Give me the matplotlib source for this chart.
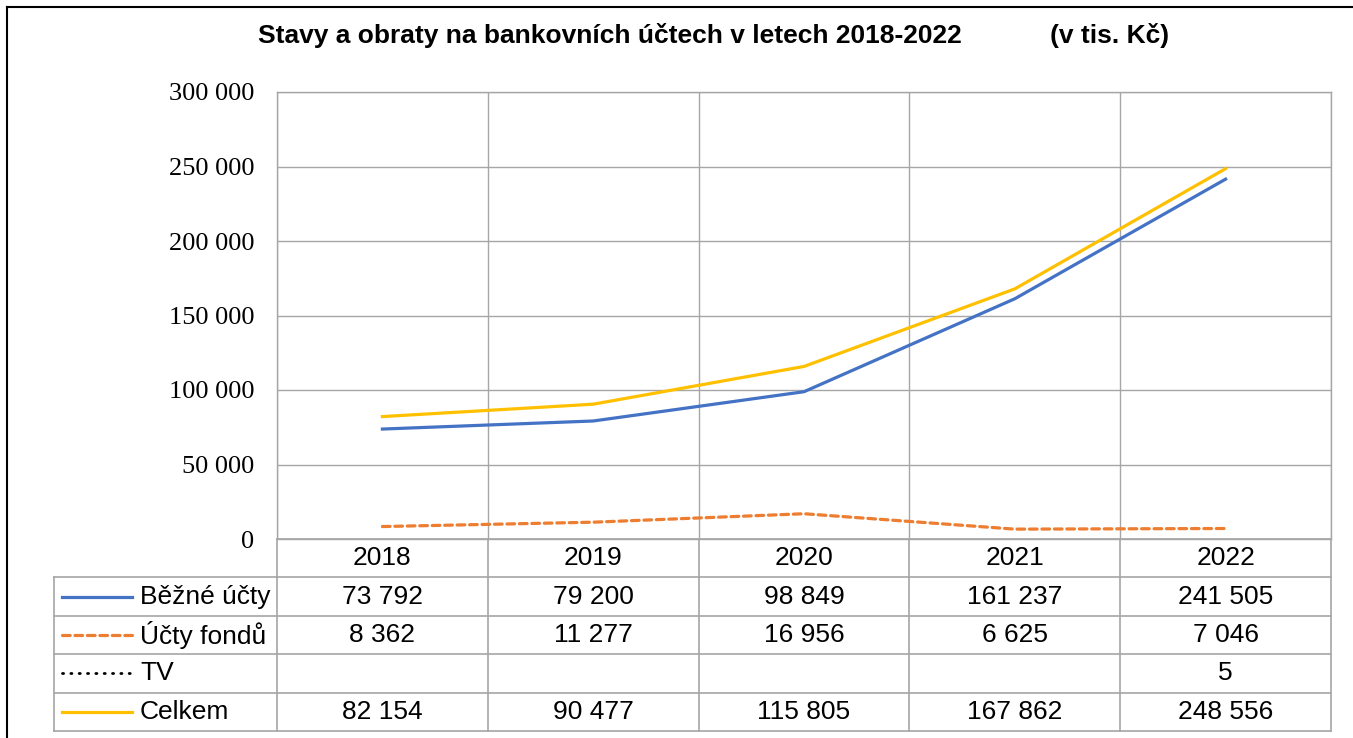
import matplotlib.pyplot as plt
import numpy as np
from matplotlib.lines import Line2D

# --- data ---
years = ['2018', '2019', '2020', '2021', '2022']
bezne = [73792, 79200, 98849, 161237, 241505]
fondy = [8362, 11277, 16956, 6625, 7046]
tv = [np.nan, np.nan, np.nan, np.nan, 5]
celkem = [82154, 90477, 115805, 167862, 248556]
series_names = ['Běžné účty', 'Účty fondů', 'TV', 'Celkem']
series_vals = [bezne, fondy, tv, celkem]
yticks = [0, 50000, 100000, 150000, 200000, 250000, 300000]


def fmt(v):
    if v is None or (isinstance(v, float) and np.isnan(v)):
        return ''
    return f'{int(v):,}'.replace(',', ' ')


W, H = 1353, 738
fig = plt.figure(figsize=(W / 100, H / 100), dpi=100)


def box(l, t, r, b):
    return [l / W, 1 - b / H, (r - l) / W, (b - t) / H]


grid_c = '#A6A6A6'
styles = [
    dict(color='#4472C4', ls='-', lw=2.3),
    dict(color='#ED7D31', ls=(0, (2.4, 1.5)), dash_capstyle='round', lw=2.3),
    dict(color='black', ls=(0, (0.4, 2.6)), dash_capstyle='round', lw=2.0),
    dict(color='#FFC000', ls='-', lw=2.3),
]

# --- main plot ---
ax = fig.add_axes(box(277, 92, 1331, 539))
x = np.arange(len(years))
for vals, st in zip(series_vals, styles):
    ax.plot(x, vals, **st)

ax.set_xlim(-0.5, 4.5)
ax.set_ylim(0, 300000)
ax.set_yticks(yticks)
ax.set_yticklabels([fmt(v) for v in yticks], family='Liberation Serif', fontsize=19)
ax.set_xticks(np.arange(-0.5, 5))
ax.set_xticklabels([])
ax.tick_params(length=0, pad=16.5)
ax.grid(True, color=grid_c, lw=1)
ax.set_axisbelow(True)
for s in ax.spines.values():
    s.set_color(grid_c)
    s.set_linewidth(1)

# --- data table ---
unit = (1331 - 277) / 5
x0 = -0.5 - (277 - 54) / unit
tab = fig.add_axes(box(54, 539, 1331, 731))
tab.set_xlim(x0, 4.5)
tab.set_ylim(5, 0)
tab.axis('off')
lk = dict(color=grid_c, lw=1.2, clip_on=False)
tab.plot([-0.5, 4.5], [0, 0], **lk)
for r in range(1, 6):
    tab.plot([x0, 4.5], [r, r], **lk)
for b in np.arange(-0.5, 5):
    tab.plot([b, b], [0, 5], **lk)
tab.plot([x0, x0], [1, 5], **lk)

tfont = dict(family='Liberation Sans', fontsize=19, va='center')
for i, yr in enumerate(years):
    tab.text(i, 0.5, yr, ha='center', **tfont)
for r, (name, vals, st) in enumerate(zip(series_names, series_vals, styles)):
    yy = r + 1.5
    tab.plot([x0 + 8 / unit, x0 + 78 / unit], [yy, yy], clip_on=False, **st)
    tab.text(x0 + 86 / unit, yy, name, ha='left', **tfont)
    for i, v in enumerate(vals):
        tab.text(i, yy, fmt(v), ha='center', **tfont)

# --- title ---
fig.text(258 / W, 1 - 36 / H, 'Stavy a obraty na bankovních účtech v letech 2018-2022',
         family='Liberation Sans', fontweight='bold', fontsize=19, ha='left', va='center')
fig.text(1050 / W, 1 - 36 / H, '(v tis. Kč)',
         family='Liberation Sans', fontweight='bold', fontsize=19, ha='left', va='center')

# --- outer frame ---
fig.add_artist(Line2D([7 / W, 7 / W], [0, 1 - 7 / H], color='black', lw=1.5, transform=fig.transFigure))
fig.add_artist(Line2D([7 / W, 1], [1 - 7 / H, 1 - 7 / H], color='black', lw=1.5, transform=fig.transFigure))

fig.savefig('out.png', dpi=100)
